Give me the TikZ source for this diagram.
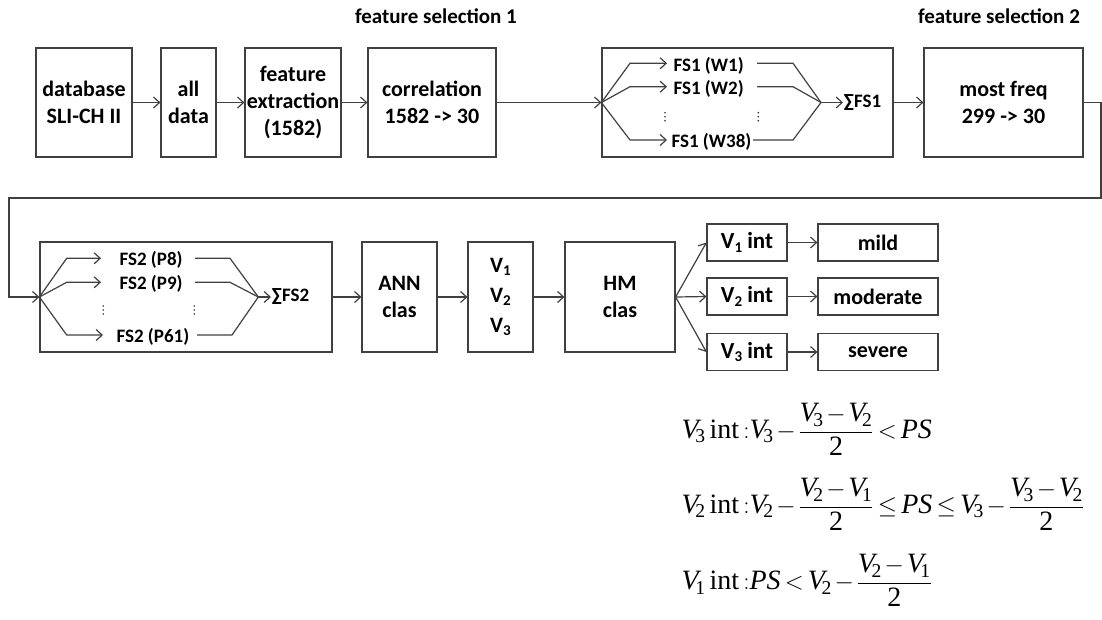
\documentclass[tikz,border=0pt]{standalone}
\usepackage{amsmath}
\usepackage{fontspec}
\setmainfont{Carlito}
\newfontfamily\tms{Liberation Serif}
\usetikzlibrary{arrows.meta}
\definecolor{linegray}{HTML}{404040}
\newcommand\lowsub[1]{\raisebox{-0.35ex}{\fontsize{15}{15}\selectfont #1}}
% Times-style symbols for the interval rules
\newcommand\Vi[1]{\text{\tms\itshape V}_{\!\text{\tms #1}}}
\newcommand\PS{\text{\tms\itshape PS}}
\newcommand\intlab{\text{\tms int}}
\newcommand\two{\text{\tms 2}}
\newcommand\tightmath{\medmuskip=2mu plus 1mu\thickmuskip=3mu plus 1mu}
\begin{document}
\begin{tikzpicture}[x=1pt,y=-1pt,
  line width=1.2pt,
  every node/.style={font=\fontsize{22}{27}\selectfont\bfseries, text=black},
  blk/.style={draw=linegray, align=center, inner sep=0pt},
  row1/.style={blk, minimum height=109pt},
  row2/.style={blk, minimum height=110pt},
  outbox/.style={blk, minimum height=37pt},
  arr/.style={draw=linegray, -{Straight Barb[length=6pt,width=11pt,line width=1.2pt]}},
  ln/.style={draw=linegray},
  lbl/.style={font=\fontsize{19}{22}\selectfont\bfseries, inner sep=0pt, anchor=west},
  dot/.style={fill=black!80, draw=none},
  title/.style={font=\fontsize{21}{26}\selectfont\bfseries},
  eqn/.style={font=\fontsize{28}{32}\selectfont\tms, anchor=base west, inner sep=0pt}]

\useasboundingbox (0,0) rectangle (1102,619);

% ---------- titles ----------
\node[title] (t1) at (436,16) {feature selection 1};
\node[title] (t2) at (999,16) {feature selection 2};

% ---------- first row ----------
\node[row1, minimum width=96pt]  (db)   at (84,102.5)    {database\\SLI-CH II};
\node[row1, minimum width=55pt]  (all)  at (188.5,102.5) {all\\data};
\node[row1, minimum width=96pt]  (fe)   at (293,102.5)   {feature\\extraction\\(1582)};
\node[row1, minimum width=128pt] (corr) at (432,102.5)   {correlation\\1582 -> 30};
\node[row1, minimum width=291pt] (fs1)  at (747.5,102.5) {};
\node[row1, minimum width=159pt] (mf)   at (1003.5,102.5){most freq\\299 -> 30};

\draw[arr] (db) -- (all);
\draw[arr] (all) -- (fe);
\draw[arr] (fe) -- (corr);
\draw[arr] (corr) -- (fs1.west);
\draw[arr] (fs1) -- (mf);

% fan inside feature selection 1
\node[lbl] (w1)  at (673,66)  {FS1 (W1)};
\node[lbl] (w2)  at (673,89)  {FS1 (W2)};
\node[lbl] (w38) at (671,142) {FS1 (W38)};
\node[lbl] (s1) at (843,102.5) {∑FS1};
\foreach \dx in {665,758.3}
  \foreach \dy in {-4,0,4}
    \fill[dot] (\dx,116.7+\dy) circle (0.9pt);

\coordinate (m1) at (821,102.5);
\draw[arr] (fs1.west) -- (630,63.3)  -- (667,63.3);
\draw[arr] (fs1.west) -- (630,86.7)  -- (667,86.7);
\draw[arr] (fs1.west) -- (630,140)   -- (667,140);
\draw[ln] (757,63.3) -- (793,63.3) -- (m1);
\draw[ln] (757,86.7) -- (793,86.7) -- (m1);
\draw[ln] (753,140) -- (793,140) -- (m1);
\draw[arr] (m1) -- (s1.west);

% feedback line into the second row
\coordinate (fb1) at (1101,198);
\coordinate (fb2) at (9,297);

% ---------- second row ----------
\node[row2, minimum width=292pt] (fs2) at (186,297)   {};
\node[row2, minimum width=75pt]  (ann) at (399.5,297) {ANN\\clas};
\node[row2, minimum width=65pt, font=\fontsize{22}{30}\selectfont\bfseries]
      (vv)  at (500.5,297) {V\lowsub{1}\\V\lowsub{2}\\V\lowsub{3}};
\node[row2, minimum width=110pt] (hm)  at (620,297)   {HM\\clas};

\draw[arr] (mf.east) -| (fb1) -| (fb2) -- (fs2.west);

% fan inside feature selection 2
\node[lbl] (p8)  at (119,260)   {FS2 (P8)};
\node[lbl] (p9)  at (119,284)   {FS2 (P9)};
\node[lbl] (p61) at (116,337)   {FS2 (P61)};
\node[lbl] (s2) at (271,297) {∑FS2};
\foreach \dx in {103.3,194.3}
  \foreach \dy in {-4,0,4}
    \fill[dot] (\dx,310+\dy) circle (0.9pt);

\coordinate (m2) at (258.3,297);
\draw[arr] (fs2.west) -- (66.7,258.3) -- (101,258.3);
\draw[arr] (fs2.west) -- (66.7,282.3) -- (101,282.3);
\draw[arr] (fs2.west) -- (66.7,335)   -- (103,335);
\draw[ln] (195,258.3) -- (230,258.3) -- (m2);
\draw[ln] (195,282.3) -- (230,282.3) -- (m2);
\draw[ln] (197,335)   -- (232,335)   -- (m2);
\draw[arr] (m2) -- (s2.west);

\draw[arr] (fs2) -- (ann);
\draw[arr] (ann) -- (vv);
\draw[arr] (vv) -- (hm);

% intervals and severity classes
\node[outbox, minimum width=80pt, font=\fontsize{23}{27}\selectfont\bfseries]  (v1) at (747,242.5) {V\lowsub{1} int};
\node[outbox, minimum width=80pt, font=\fontsize{23}{27}\selectfont\bfseries]  (v2) at (747,296.5) {V\lowsub{2} int};
\node[outbox, minimum width=80pt, font=\fontsize{23}{27}\selectfont\bfseries]  (v3) at (747,352)   {V\lowsub{3} int};
\node[outbox, minimum width=120pt] (c1) at (878,242.5) {mild};
\node[outbox, minimum width=120pt] (c2) at (878,296.5) {moderate};
\node[outbox, minimum width=120pt] (c3) at (878,352)   {severe};

\draw[arr] (hm.east) -- (v1.west);
\draw[arr] (hm.east) -- (v2.west);
\draw[arr] (hm.east) -- (v3.west);
\draw[arr] (v1) -- (c1);
\draw[arr] (v2) -- (c2);
\draw[arr] (v3) -- (c3);

% ---------- interval rules ----------
\node[eqn] (e1) at (681,438.5)
  {$\tightmath\displaystyle \Vi{3}\;\intlab\;{:}\Vi{3}-\frac{\Vi{3}-\Vi{2}}{\two}<\PS$};
\node[eqn] (e2) at (681,513.5)
  {$\tightmath\displaystyle \Vi{2}\;\intlab\;{:}\Vi{2}-\frac{\Vi{2}-\Vi{1}}{\two}\le \PS\le \Vi{3}-\frac{\Vi{3}-\Vi{2}}{\two}$};
\node[eqn] (e3) at (681,589.7)
  {$\tightmath\displaystyle \Vi{1}\;\intlab\;{:}\PS<\Vi{2}-\frac{\Vi{2}-\Vi{1}}{\two}$};
\end{tikzpicture}
\end{document}
